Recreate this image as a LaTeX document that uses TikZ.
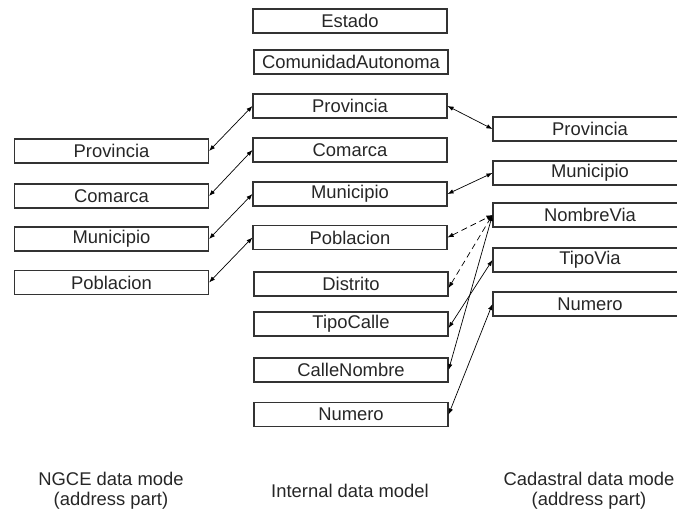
\documentclass[tikz,border=0pt]{standalone}
\usepackage{fontspec}
\setmainfont{Liberation Sans}
\usetikzlibrary{arrows.meta}

\begin{document}
\begin{tikzpicture}[x=1bp,y=-1bp,
  box/.style={draw=black!80,line width=1.1bp,minimum width=194bp,minimum height=24bp,inner sep=0pt,text=black!85},
  link/.style={{Latex[length=6bp,width=4.5bp]}-{Latex[length=6bp,width=4.5bp]},line width=0.7bp},
  dashlink/.style={link,dash pattern=on 6bp off 4bp},
  lbl/.style={align=center,text=black!85}]
\useasboundingbox (0,0) rectangle (677,513);
\fontsize{18.4bp}{20bp}\selectfont
% NGCE model
\node[box] (l1) at (111.5,151) {Provincia};
\node[box] (l2) at (111.5,196) {Comarca};
\node[box] (l3) at (111.5,239) {Municipio};
\node[box] (l4) at (111.5,282.5) {Poblacion};
% internal model
\node[box] (m1) at (350,21) {Estado};
\node[box] (m2) at (351,62) {ComunidadAutonoma};
\node[box] (m3) at (350,106) {Provincia};
\node[box] (m4) at (350,150) {Comarca};
\node[box] (m5) at (350,194) {Municipio};
\node[box] (m6) at (350,237.5) {Poblacion};
\node[box] (m7) at (351,284) {Distrito};
\node[box] (m8) at (351,324) {TipoCalle};
\node[box] (m9) at (351,370) {CalleNombre};
\node[box] (m10) at (351,414.5) {Numero};
% cadastral model
\node[box] (r1) at (590,129) {Provincia};
\node[box] (r2) at (590,173) {Municipio};
\node[box] (r3) at (590,215) {NombreVia};
\node[box] (r4) at (590,260) {TipoVia};
\node[box] (r5) at (590,304) {Numero};
% captions
\node[lbl] (c1) at (111,491) {NGCE data mode\\(address part)};
\node[lbl] (c2) at (350,491) {Internal data model};
\node[lbl] (c3) at (589,491) {Cadastral data mode\\(address part)};
\draw [link] (l1.east) -- (m3.west);
\draw [link] (l2.east) -- (m4.west);
\draw [link] (l3.east) -- (m5.west);
\draw [link] (l4.east) -- (m6.west);
\draw [link] (m3.east) -- (r1.west);
\draw [link] (m5.east) -- (r2.west);
\draw [dashlink] (m6.east) -- (r3.west);
\draw [dashlink] ([yshift=-4bp]m7.east) -- (r3.west);
\draw [link] ([yshift=-4bp]m8.east) -- (r4.west);
\draw [link] (m9.east) -- (r3.west);
\draw [link] (m10.east) -- (r5.west);
\end{tikzpicture}
\end{document}
